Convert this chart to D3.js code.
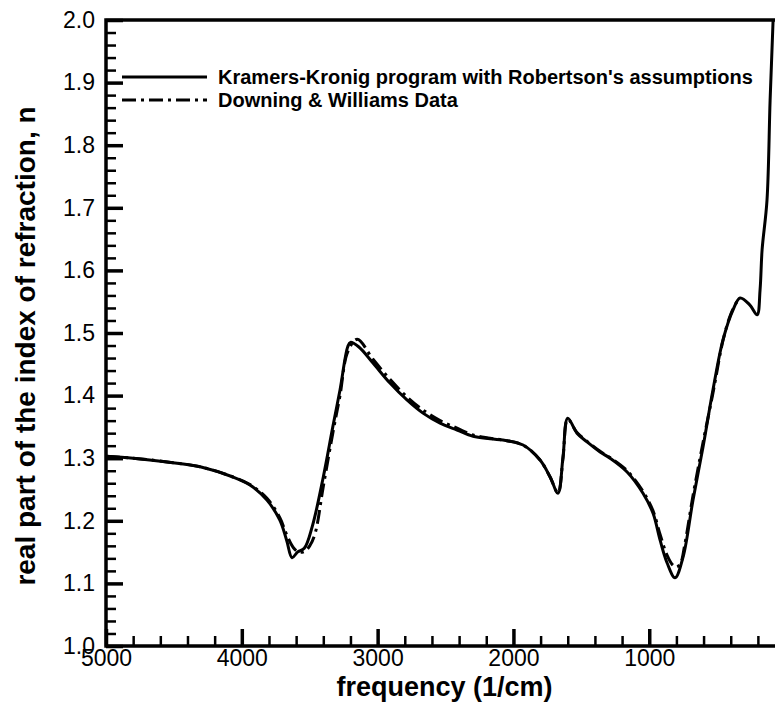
<!DOCTYPE html>
<html><head><meta charset="utf-8">
<script src="https://cdn.jsdelivr.net/npm/d3@7"></script>
<style>
body{margin:0;background:#fff;}
svg{display:block;font-family:"Liberation Sans",Arial,Helvetica,sans-serif;}
</style></head>
<body><svg id="c" width="777" height="705"></svg>
<script>
// Kramers-Kronig program (solid)
const kkFreq = [5000,4800,4550,4300,4065,3940,3815,3720,3670,3630,3590,3540,3480,3400,3330,3277,3220,3200,3140,3034,2909,2784,2666,2540,2415,2297,2172,2047,1929,1804,1730,1672,1635,1600,1532,1458,1362,1289,1163,1046,972,920,869,810,751,678,604,530,457,383,331,260,206,184,169,133,110,88,70];
const kkN    = [1.303,1.300,1.294,1.286,1.270,1.257,1.233,1.201,1.169,1.141,1.150,1.156,1.192,1.270,1.350,1.409,1.478,1.485,1.478,1.452,1.420,1.393,1.372,1.356,1.345,1.335,1.331,1.328,1.321,1.297,1.270,1.244,1.302,1.364,1.340,1.326,1.310,1.300,1.278,1.244,1.212,1.169,1.133,1.109,1.142,1.233,1.318,1.410,1.489,1.537,1.556,1.545,1.529,1.569,1.633,1.712,1.872,2.0,2.1];
// Downing & Williams data (dash-dot)
const dwFreq = [5000,4800,4550,4300,4065,3940,3815,3720,3670,3620,3580,3540,3500,3460,3400,3330,3277,3220,3150,3034,2909,2784,2666,2540,2415,2297,2172,2047,1929,1804,1730,1672,1635,1600,1532,1458,1362,1289,1163,1046,972,920,869,830,800,770,740,678,604,530,457,400,350];
const dwN    = [1.303,1.300,1.294,1.286,1.270,1.258,1.236,1.205,1.178,1.157,1.150,1.151,1.160,1.180,1.255,1.340,1.400,1.470,1.490,1.458,1.426,1.398,1.377,1.360,1.348,1.337,1.332,1.328,1.321,1.297,1.270,1.245,1.300,1.362,1.341,1.327,1.311,1.301,1.280,1.247,1.216,1.178,1.145,1.130,1.126,1.132,1.160,1.240,1.325,1.405,1.488,1.530,1.552];
const xTicksMajor = [5000,4000,3000,2000,1000];
const xTicksMinor = [4800,4600,4400,4200,3800,3600,3400,3200,2800,2600,2400,2200,1800,1600,1400,1200,800,600,400,200];
const yTicksMajor = [1.0,1.1,1.2,1.3,1.4,1.5,1.6,1.7,1.8,1.9,2.0];
const yTicksMinor = [1.02,1.04,1.06,1.08,1.12,1.14,1.16,1.18,1.22,1.24,1.26,1.28,1.32,1.34,1.36,1.38,1.42,1.44,1.46,1.48,1.52,1.54,1.56,1.58,1.62,1.64,1.66,1.68,1.72,1.74,1.76,1.78,1.82,1.84,1.86,1.88,1.92,1.94,1.96,1.98];
const legendLabels = ["Kramers-Kronig program with Robertson's assumptions","Downing & Williams Data"];

const L=106, R=775, T=20, B=646;
const svg=d3.select("#c");
const x=d3.scaleLinear().domain([5000,74]).range([L,R]);
const y=d3.scaleLinear().domain([1.0,2.0]).range([B,T]);

svg.append("defs").append("clipPath").attr("id","clip")
  .append("rect").attr("x",L).attr("y",T).attr("width",R-L).attr("height",B-T);

// curves
const line=d3.line().x(d=>x(d[0])).y(d=>y(d[1])).curve(d3.curveCatmullRom.alpha(0.5));
const g=svg.append("g").attr("clip-path","url(#clip)");
g.append("path").datum(dwFreq.map((f,i)=>[f,dwN[i]]))
  .attr("d",line).attr("fill","none").attr("stroke","#000").attr("stroke-width",3)
  .attr("stroke-dasharray","14,5,3,5");
g.append("path").datum(kkFreq.map((f,i)=>[f,kkN[i]]))
  .attr("d",line).attr("fill","none").attr("stroke","#000").attr("stroke-width",3);

// axes with inward ticks (d3.axis)
function fmtAxis(s){
  s.select(".domain").remove();
  s.selectAll(".tick line").style("stroke","#000");
  s.selectAll(".tick text").style("fill","#000").attr("font-size",23).attr("font-family","Liberation Sans, Arial, sans-serif");
}
svg.append("g").attr("class","xminor").attr("transform",`translate(0,${B})`)
  .call(d3.axisBottom(x).tickValues(xTicksMinor).tickSizeInner(-10).tickSizeOuter(0).tickFormat(()=>""))
  .call(fmtAxis).selectAll(".tick line").style("stroke-width","2.5px");
svg.append("g").attr("class","xmajor").attr("transform",`translate(0,${B})`)
  .call(d3.axisBottom(x).tickValues(xTicksMajor).tickSizeInner(-17).tickSizeOuter(0).tickPadding(4).tickFormat(d3.format("d")))
  .call(fmtAxis).selectAll(".tick line").style("stroke-width","3.5px");
svg.append("g").attr("class","yminor").attr("transform",`translate(${L},0)`)
  .call(d3.axisLeft(y).tickValues(yTicksMinor).tickSizeInner(-10).tickSizeOuter(0).tickFormat(()=>""))
  .call(fmtAxis).selectAll(".tick line").style("stroke-width","2.5px");
svg.append("g").attr("class","ymajor").attr("transform",`translate(${L},0)`)
  .call(d3.axisLeft(y).tickValues(yTicksMajor).tickSizeInner(-17).tickSizeOuter(0).tickPadding(11).tickFormat(d3.format(".1f")))
  .call(fmtAxis).selectAll(".tick line").style("stroke-width","3.5px");

// frame
const fr=d3.path();
fr.moveTo(R,T);fr.lineTo(L,T);fr.lineTo(L,B);fr.lineTo(R,B);
svg.append("path").attr("d",fr.toString()).attr("fill","none").attr("stroke","#000").attr("stroke-width",3.5);

// titles
svg.append("text").attr("x",(L+R)/2+4).attr("y",695.5).attr("text-anchor","middle")
  .attr("font-size",27).attr("font-weight","bold").text("frequency (1/cm)");
svg.append("text").attr("transform",`translate(35,${(T+B)/2+13}) rotate(-90)`).attr("text-anchor","middle")
  .attr("font-size",28).attr("font-weight","bold").text("real part of the index of refraction, n");

// legend
const leg=svg.append("g");
const legY=[77,100];
leg.selectAll("line").data(legendLabels).join("line")
  .attr("x1",122).attr("x2",207).attr("y1",(d,i)=>legY[i]).attr("y2",(d,i)=>legY[i])
  .attr("stroke","#000").attr("stroke-width",3)
  .attr("stroke-dasharray",(d,i)=>i===1?"14,5,3,5":null);
leg.selectAll("text").data(legendLabels).join("text")
  .attr("x",218).attr("y",(d,i)=>legY[i]+7).attr("font-size",20).attr("font-weight","bold")
  .text(d=>d);
</script></body></html>
